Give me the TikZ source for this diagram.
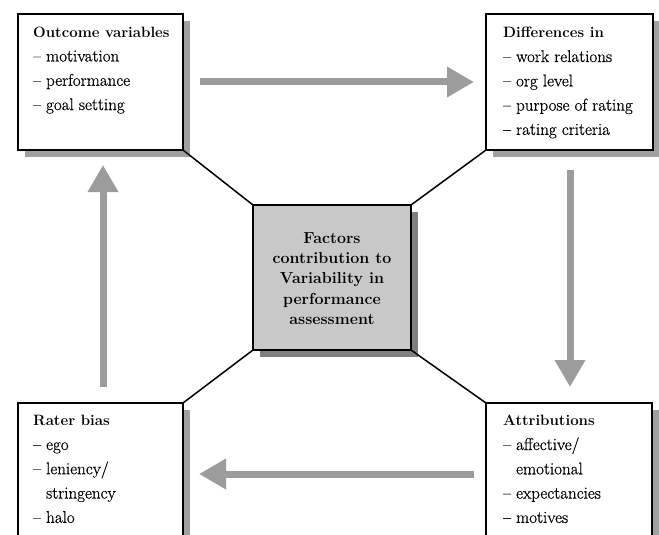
\documentclass[tikz,border=0pt]{standalone}
\usepackage{fontspec}
\usetikzlibrary{arrows.meta}
\newfontface\boxfont{Latin Modern Roman}[RawFeature={embolden=0.6}]
\definecolor{shade}{HTML}{A0A0A0}
\definecolor{arrowgray}{HTML}{9C9C9C}
\definecolor{centerfill}{HTML}{C8C8C8}
\newcommand{\hd}[1]{{\fontsize{15}{24.3}\normalfont\bfseries #1}}
\begin{document}
\begin{tikzpicture}[x=1pt,y=-1pt,
  box/.style={draw=black,line width=1.8pt,fill=white,anchor=north west,inner sep=0pt,outer sep=0pt},
  shadowbox/.style={fill=shade,draw=none,anchor=north west,inner sep=0pt,outer sep=0pt},
  boxtext/.style={anchor=north west,align=left,inner sep=0pt,font=\fontsize{17}{24.3}\boxfont},
  centertext/.style={align=center,inner sep=0pt,font=\fontsize{16}{20.3}\selectfont\bfseries},
  link/.style={draw=black,line width=1.5pt},
  flow/.style={draw=arrowgray,line width=7pt,-{Triangle[length=27pt,width=29pt]}}]
\useasboundingbox (0,0) rectangle (659,535);
\clip (0,0) rectangle (659,535);
% shadows
\node[shadowbox,minimum width=165pt,minimum height=136pt] at (25,21) {};
\node[shadowbox,minimum width=167pt,minimum height=136pt] at (493,21) {};
\node[shadowbox,minimum width=165pt,minimum height=150pt] at (25,410) {};
\node[shadowbox,minimum width=166pt,minimum height=150pt] at (493,410) {};
\node[shadowbox,minimum width=158pt,minimum height=145pt,fill=gray] at (260,212) {};
% boxes
\node[box,minimum width=165pt,minimum height=136pt] (tl) at (18,14) {};
\node[box,minimum width=167pt,minimum height=136pt] (tr) at (486,14) {};
\node[box,minimum width=165pt,minimum height=160pt] (bl) at (18,403) {};
\node[box,minimum width=166pt,minimum height=160pt] (br) at (486,403) {};
\node[box,minimum width=158pt,minimum height=145pt,fill=centerfill] (c) at (253,205) {};
% texts
\node[boxtext] (tltext) at ([xshift=15pt,yshift=-12.5pt]tl.north west)
  {\hd{Outcome variables}\\– motivation\\– performance\\– goal setting};
\node[boxtext] (trtext) at ([xshift=17pt,yshift=-13pt]tr.north west)
  {\hd{Differences in}\\– work relations\\– org level\\– purpose of rating\\– rating criteria};
\node[boxtext] (bltext) at ([xshift=15pt,yshift=-12pt]bl.north west)
  {\hd{Rater bias}\\– ego\\– leniency/\\\phantom{– }stringency\\– halo};
\node[boxtext] (brtext) at ([xshift=17pt,yshift=-12pt]br.north west)
  {\hd{Attributions}\\– affective/\\\phantom{– }emotional\\– expectancies\\– motives};
\node[centertext] (ctext) at ([yshift=-1pt]c.center)
  {Factors\\contribution to\\Variability in\\performance\\assessment};
% connectors
\draw[link] (tl.south east) -- (c.north west);
\draw[link] (tr.south west) -- (c.north east);
\draw[link] (c.south west) -- (bl.north east);
\draw[link] (c.south east) -- (br.north west);
% flow arrows
\coordinate (a1s) at (200,82); \coordinate (a1e) at (474,82);
\coordinate (a2s) at (570,170); \coordinate (a2e) at (570,387);
\coordinate (a3s) at (474,474); \coordinate (a3e) at (199,474);
\coordinate (a4s) at (103,387); \coordinate (a4e) at (103,165);
\draw[flow] (a1s) -- (a1e);
\draw[flow] (a2s) -- (a2e);
\draw[flow] (a3s) -- (a3e);
\draw[flow] (a4s) -- (a4e);
\end{tikzpicture}
\end{document}
